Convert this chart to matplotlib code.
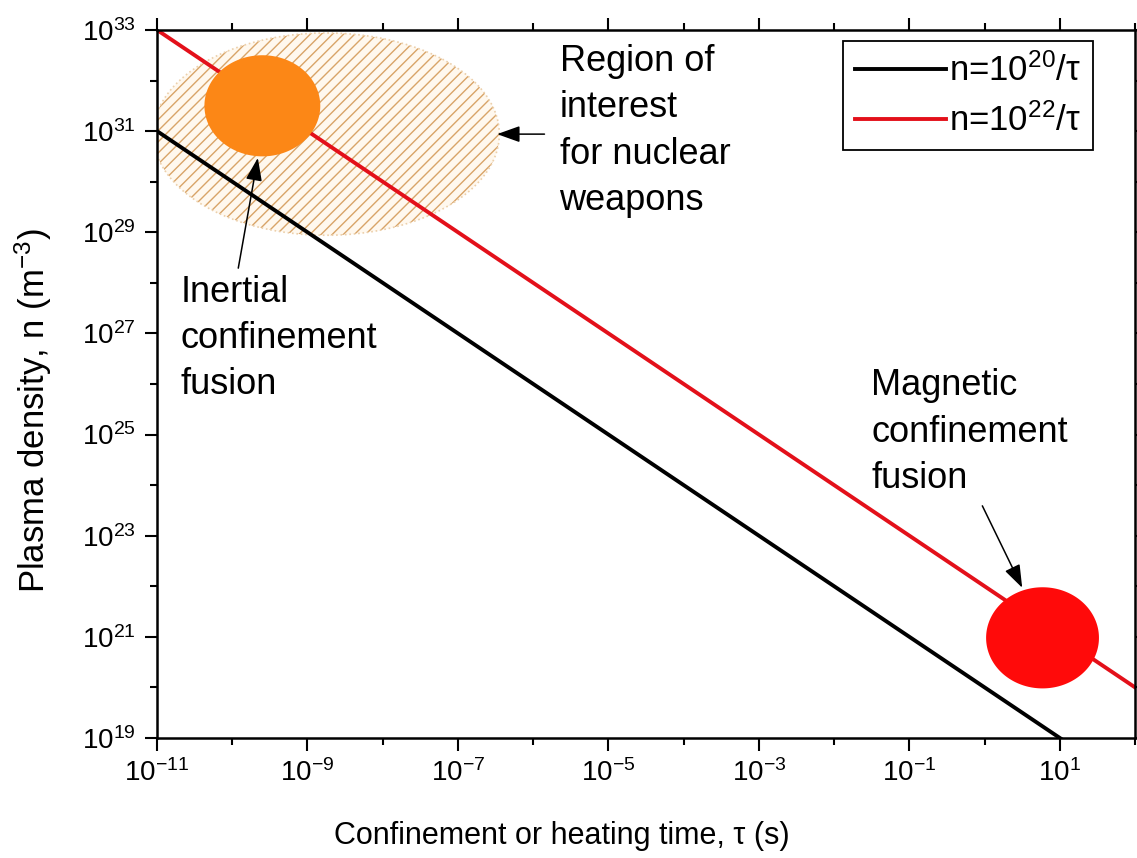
import numpy as np
import matplotlib
matplotlib.use("Agg")
import matplotlib.pyplot as plt
from matplotlib.ticker import FixedLocator, FuncFormatter

plt.rcParams['font.family'] = ['Liberation Sans', 'DejaVu Sans']
plt.rcParams['mathtext.fontset'] = 'custom'
plt.rcParams['mathtext.rm'] = 'Liberation Sans'
plt.rcParams['mathtext.it'] = 'Liberation Sans:italic'
plt.rcParams['mathtext.bf'] = 'Liberation Sans:bold'
plt.rcParams['hatch.linewidth'] = 1.0

# criteria lines n = C / tau
tau_ends = [1e-11, 1e2]
n_tau_consts = [1e20, 1e22]
line_labels = [r"n=10$^{20}$/τ", r"n=10$^{22}$/τ"]
line_colors = ["black", "#e3101a"]

# regions, as ellipses in log10 space: centre (tau, n) and half-axes in decades
weapons_centre = (-8.75, 30.94)
weapons_halfaxes = (2.3, 2.0)
icf_centre = (-9.6, 31.5)
icf_halfaxes = (0.77, 1.0)
mcf_centre = (0.77, 20.98)
mcf_halfaxes = (0.75, 1.0)

x_major = [-11, -9, -7, -5, -3, -1, 1]
x_minor = [-10, -8, -6, -4, -2, 0, 2]
y_major = [19, 21, 23, 25, 27, 29, 31, 33]
y_minor = [20, 22, 24, 26, 28, 30, 32]


def log_ellipse(centre, halfaxes, n=300):
    t = np.linspace(0, 2 * np.pi, n)
    lx = centre[0] + halfaxes[0] * np.cos(t)
    ly = centre[1] + halfaxes[1] * np.sin(t)
    return 10.0 ** lx, 10.0 ** ly


def pow10(v, pos):
    return r"$10^{%d}$" % int(round(np.log10(v)))


fig = plt.figure(figsize=(11.37, 8.58), dpi=100)
ax = fig.add_axes([0.1381, 0.1399, 0.8602, 0.8252])
ax.set_xscale("log")
ax.set_yscale("log")
ax.set_xlim(1e-11, 1e2)
ax.set_ylim(1e19, 1e33)

# hatched region of interest for weapons
ex, ey = log_ellipse(weapons_centre, weapons_halfaxes)
ax.fill(ex, ey, facecolor="#fff8ee", edgecolor="#d8a468", hatch="///",
        linewidth=0, zorder=1)
ax.plot(ex, ey, ls=":", color="#ecd0ab", lw=1.2, zorder=1)

for c, lab, col in zip(n_tau_consts, line_labels, line_colors):
    ax.plot(tau_ends, [c / t for t in tau_ends], color=col, lw=2.8,
            label=lab, zorder=2)

ox, oy = log_ellipse(icf_centre, icf_halfaxes)
ax.fill(ox, oy, color="#fc8716", lw=0, zorder=3)
rx, ry = log_ellipse(mcf_centre, mcf_halfaxes)
ax.fill(rx, ry, color="#ff0a0a", lw=0, zorder=3)

arrow = dict(arrowstyle="-|>,head_length=0.7,head_width=0.25", color="black",
             lw=1.1, mutation_scale=20, shrinkA=0, shrinkB=0)
ax.annotate("", xy=(10**-9.66, 10**30.47), xytext=(10**-9.92, 10**28.29),
            arrowprops=arrow, zorder=4)
ax.annotate("", xy=(10**0.50, 10**21.97), xytext=(10**-0.03, 10**23.59),
            arrowprops=arrow, zorder=4)
ax.annotate("", xy=(10**-6.48, 10**30.94), xytext=(10**-5.85, 10**30.94),
            arrowprops=arrow, zorder=4)

txt = dict(fontsize=26, ha="left", va="top", linespacing=1.42)
ax.text(10**-10.69, 10**28.16, "Inertial\nconfinement\nfusion", **txt)
ax.text(10**-5.65, 10**32.72, "Region of\ninterest\nfor nuclear\nweapons", **txt)
ax.text(10**-1.505, 10**26.31, "Magnetic\nconfinement\nfusion", **txt)

ax.xaxis.set_major_locator(FixedLocator([10.0**e for e in x_major]))
ax.xaxis.set_minor_locator(FixedLocator([10.0**e for e in x_minor]))
ax.yaxis.set_major_locator(FixedLocator([10.0**e for e in y_major]))
ax.yaxis.set_minor_locator(FixedLocator([10.0**e for e in y_minor]))
ax.xaxis.set_major_formatter(FuncFormatter(pow10))
ax.yaxis.set_major_formatter(FuncFormatter(pow10))
ax.xaxis.set_minor_formatter(FuncFormatter(lambda v, p: ""))
ax.yaxis.set_minor_formatter(FuncFormatter(lambda v, p: ""))
ax.tick_params(which="both", direction="out", top=True, right=True,
               width=1.5, labelsize=20)
ax.tick_params(which="major", length=9, pad=6)
ax.tick_params(which="minor", length=5)
for s in ax.spines.values():
    s.set_linewidth(1.8)

ax.set_xlabel("Confinement or heating time, τ (s)", fontsize=22)
ax.xaxis.set_label_coords(0.414, -0.117)
ax.set_ylabel(r"Plasma density, n (m$^{-3}$)", fontsize=25)
ax.yaxis.set_label_coords(-0.105, 0.463)

leg = ax.legend(loc="upper right", bbox_to_anchor=(0.957, 0.984),
                borderaxespad=0, fontsize=25, handlelength=2.6,
                handletextpad=0.1, fancybox=False, framealpha=1,
                edgecolor="black", borderpad=0.35, labelspacing=0.45)
leg.get_frame().set_linewidth(1.3)

fig.savefig("out.png", dpi=100)
